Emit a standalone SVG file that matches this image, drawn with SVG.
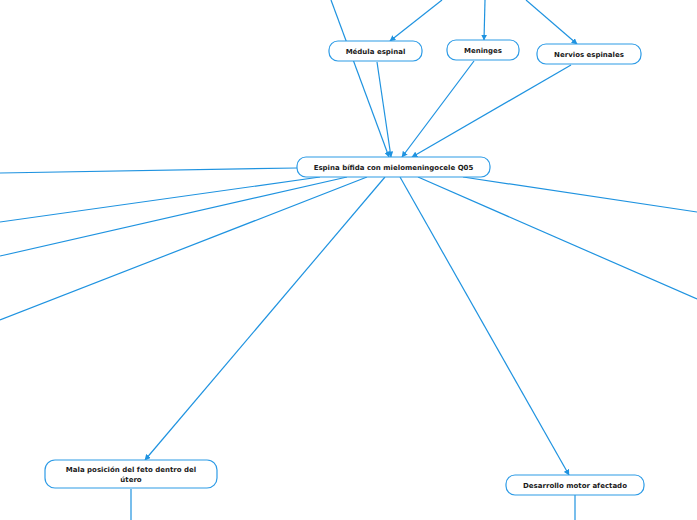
<svg xmlns="http://www.w3.org/2000/svg" width="697" height="520" viewBox="0 0 697 520">
<style>
.node rect{fill:#ffffff;stroke:#2d9be6;stroke-width:1.2}
.node text{font-family:"DejaVu Sans",Verdana,sans-serif;font-weight:bold;font-size:7px;fill:#1a1a1a;text-anchor:middle}
.conn line{stroke:#1f93e0;stroke-width:1.2;fill:none}
.conn line.arr{marker-end:url(#ah)}
</style>
<defs>
<marker id="ah" viewBox="0 0 10 10" refX="9" refY="5" markerWidth="6" markerHeight="6" markerUnits="userSpaceOnUse" orient="auto">
<path d="M0,0 L10,5 L0,10 z" fill="#1f93e0"/>
</marker>
</defs>
<rect width="697" height="520" fill="#ffffff"/>
<g id="connectors" class="conn">
<line class="arr" x1="442" y1="0" x2="390" y2="41"/>
<line class="arr" x1="485" y1="0" x2="484" y2="40"/>
<line class="arr" x1="526" y1="0" x2="577" y2="44"/>
<line class="arr" x1="331" y1="0" x2="389" y2="157"/>
<line class="arr" x1="377" y1="62" x2="391" y2="157"/>
<line class="arr" x1="474" y1="61" x2="402" y2="157"/>
<line class="arr" x1="571" y1="65" x2="412" y2="157"/>
<line x1="297" y1="168" x2="0" y2="173"/>
<line x1="320" y1="177" x2="0" y2="222"/>
<line x1="347" y1="177" x2="0" y2="256"/>
<line x1="367" y1="177" x2="0" y2="320"/>
<line class="arr" x1="385" y1="177" x2="145" y2="460"/>
<line class="arr" x1="400" y1="177" x2="569" y2="475"/>
<line x1="418" y1="177" x2="697" y2="299"/>
<line x1="463" y1="177" x2="697" y2="212"/>
<line x1="131" y1="489" x2="131" y2="520"/>
<line x1="575" y1="495" x2="575" y2="520"/>
</g>
<g id="node-medula" class="node">
<rect x="329" y="41" width="93" height="20" rx="9"/>
<text x="375.5" y="53.5">Médula espinal</text>
</g>
<g id="node-meninges" class="node">
<rect x="447" y="40" width="72" height="20" rx="9"/>
<text x="483" y="52.5">Meninges</text>
</g>
<g id="node-nervios" class="node">
<rect x="537" y="44" width="104" height="20" rx="9"/>
<text x="589" y="56.5">Nervios espinales</text>
</g>
<g id="node-central" class="node">
<rect x="297" y="157" width="193" height="20" rx="9"/>
<text x="393.5" y="169.5">Espina bífida con mielomeningocele Q05</text>
</g>
<g id="node-mala" class="node">
<rect x="45" y="460" width="172" height="28" rx="10"/>
<text x="131" y="472">Mala posición del feto dentro del</text>
<text x="131" y="482">útero</text>
</g>
<g id="node-desarrollo" class="node">
<rect x="506" y="475" width="138" height="20" rx="9"/>
<text x="575" y="487.5">Desarrollo motor afectado</text>
</g>
</svg>
